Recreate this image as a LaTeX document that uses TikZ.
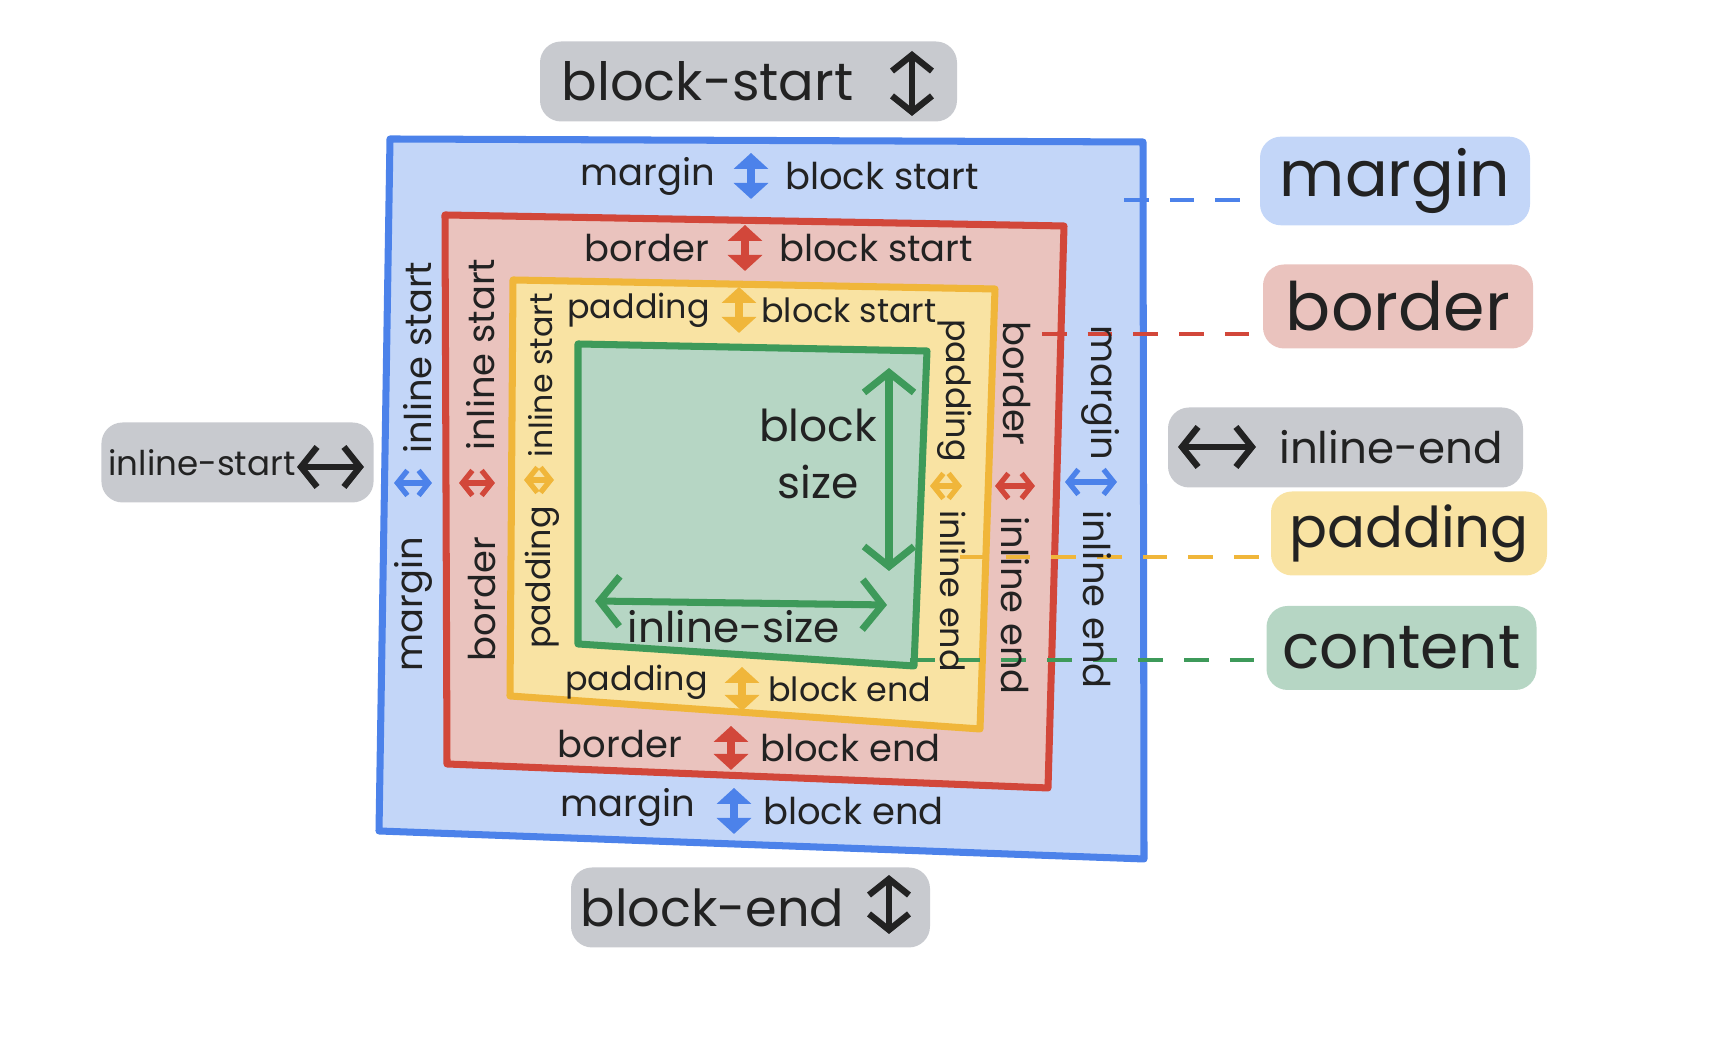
\documentclass[tikz,border=0pt]{standalone}
\usepackage{fontspec}
\setmainfont{Poppins}
\usepackage{tikz}
\usetikzlibrary{arrows.meta, positioning, calc}
\usepackage{xcolor}
\definecolor{mblue}{HTML}{4C82EA}
\definecolor{mbluefill}{HTML}{C3D6F8}
\definecolor{bred}{HTML}{D2473A}
\definecolor{bredfill}{HTML}{EAC3BE}
\definecolor{pyel}{HTML}{F0B63A}
\definecolor{pyelfill}{HTML}{F9E3A3}
\definecolor{cgrn}{HTML}{3E9A5A}
\definecolor{cgrnfill}{HTML}{B6D6C4}
\definecolor{lgray}{HTML}{C8CACF}
\definecolor{ink}{HTML}{222222}

\begin{document}
\begin{tikzpicture}[
    txt/.style={text=ink, font=\fontsize{10.5}{12}\selectfont, inner sep=1pt},
    pdtxt/.style={txt, font=\fontsize{9.5}{11}\selectfont},
    graybox/.style={fill=lgray, rounded corners=6pt, text=ink, minimum height=0.8cm, inner sep=2pt},
    keybox/.style={rounded corners=6pt, text=ink, minimum height=0.84cm, minimum width=2.7cm},
    twoway/.style={line width=2.2pt, line cap=round, {Triangle[length=1.6mm,width=3.4mm]}-{Triangle[length=1.6mm,width=3.4mm]}},
    sideway/.style={line width=1.5pt, line cap=round, {Straight Barb[length=1mm,width=2.5mm]}-{Straight Barb[length=1mm,width=2.5mm]}},
    inkway/.style={ink, line width=1.8pt, line cap=round, {Straight Barb[length=1.6mm,width=4mm]}-{Straight Barb[length=1.6mm,width=4mm]}},
    sizeway/.style={cgrn, line width=2pt, line cap=round, {Straight Barb[length=2mm,width=5mm]}-{Straight Barb[length=2mm,width=5mm]}},
    leader/.style={dash pattern=on 7pt off 6pt, line width=1.1pt},
    edge/.style={line width=2pt, line join=round}
]
    \useasboundingbox (0,0) rectangle (17.11,10.46);

    % nested boxes
    \draw[edge, mblue, fill=mbluefill] (3.90,9.07) -- (11.43,9.04) -- (11.44,1.87) -- (3.79,2.15) -- cycle;
    \draw[edge, bred, fill=bredfill] (4.45,8.31) -- (10.64,8.20) -- (10.48,2.58) -- (4.47,2.82) -- cycle;
    \draw[edge, pyel, fill=pyelfill] (5.13,7.66) -- (9.95,7.57) -- (9.80,3.17) -- (5.10,3.50) -- cycle;
    \draw[edge, cgrn, fill=cgrnfill] (5.78,7.02) -- (9.27,6.95) -- (9.14,3.80) -- (5.78,4.02) -- cycle;

    % gray direction boxes
    \node[graybox, minimum width=4.17cm, font=\fontsize{15}{17}\selectfont] (bsbox) at (7.485,9.645) {block-start\hspace{0.82cm}\mbox{}};
    \node[graybox, minimum width=3.59cm, font=\fontsize{14.5}{17}\selectfont] (bebox) at (7.505,1.385) {block-end\hspace{0.76cm}\mbox{}};
    \node[graybox, minimum width=2.67cm, font=\fontsize{9.7}{12}\selectfont] (isbox) at (2.375,5.835) {inline-start\hspace{0.71cm}\mbox{}};
    \node[graybox, minimum width=3.55cm, font=\fontsize{12.4}{15}\selectfont] (iebox) at (13.455,5.985) {\hspace{0.91cm}inline-end};
    \draw[inkway] (9.12,9.95) -- (9.12,9.30);
    \draw[inkway] (8.89,1.71) -- (8.89,1.12);
    \draw[inkway] (2.97,5.79) -- (3.64,5.79);
    \draw[inkway] (11.78,5.99) -- (12.56,5.99);

    % key labels
    \node[keybox, fill=mbluefill, font=\fontsize{18}{22}\selectfont] (mgkey) at (13.95,8.65) {margin};
    \node[keybox, fill=bredfill, font=\fontsize{19}{22}\selectfont] (bdkey) at (13.98,7.395) {border};
    \node[keybox, fill=pyelfill, minimum width=2.76cm, font=\fontsize{16}{22}\selectfont] (pdkey) at (14.09,5.125) {padding};
    \node[keybox, fill=cgrnfill, font=\fontsize{17.5}{22}\selectfont] (ctkey) at (14.015,3.98) {content};

    \coordinate (mgdot) at (11.24,8.46);
    \coordinate (bddot) at (10.42,7.12);
    \coordinate (pddot) at (9.60,4.89);
    \coordinate (ctdot) at (9.10,3.86);
    \draw[leader, mblue] (mgdot) -- (mgdot -| mgkey.west);
    \draw[leader, bred] (bddot) -- (bddot -| bdkey.west);
    \draw[leader, pyel] (pddot) -- (pddot -| pdkey.west);
    \draw[leader, cgrn] (ctdot) -- (ctdot -| ctkey.west);

    % block start / end sides
    \coordinate (mgtopar) at (7.51,8.70);
    \coordinate (bdtopar) at (7.45,7.98);
    \coordinate (pdtopar) at (7.39,7.36);
    \coordinate (pdbotar) at (7.42,3.57);
    \coordinate (bdbotar) at (7.31,2.98);
    \coordinate (mgbotar) at (7.34,2.35);

    \node[txt, anchor=east] (mgtop) at ([xshift=-0.32cm]mgtopar) {margin};
    \node[txt, anchor=west] (mgtopbs) at ([xshift=0.3cm]mgtopar) {block start};
    \draw[twoway, mblue] ([yshift=0.23cm]mgtopar) -- ([yshift=-0.23cm]mgtopar);
    \node[txt, anchor=east] (bdtop) at ([xshift=-0.32cm]bdtopar) {border};
    \node[txt, anchor=west] (bdtopbs) at ([xshift=0.3cm]bdtopar) {block start};
    \draw[twoway, bred] ([yshift=0.23cm]bdtopar) -- ([yshift=-0.23cm]bdtopar);
    \node[pdtxt, anchor=east] (pdtop) at ([xshift=-0.25cm]pdtopar) {padding};
    \node[pdtxt, anchor=west] (pdtopbs) at ([xshift=0.18cm]pdtopar) {block start};
    \draw[twoway, pyel] ([yshift=0.23cm]pdtopar) -- ([yshift=-0.23cm]pdtopar);

    \node[pdtxt, anchor=east] (pdbot) at ([xshift=-0.3cm,yshift=0.07cm]pdbotar) {padding};
    \node[pdtxt, anchor=west] (pdbotbe) at ([xshift=0.22cm]pdbotar) {block end};
    \draw[twoway, pyel] ([yshift=0.22cm]pdbotar) -- ([yshift=-0.22cm]pdbotar);
    \node[txt, anchor=east] (bdbot) at ([xshift=-0.45cm,yshift=0.04cm]bdbotar) {border};
    \node[txt, anchor=west] (bdbotbe) at ([xshift=0.25cm]bdbotar) {block end};
    \draw[twoway, bred] ([yshift=0.22cm]bdbotar) -- ([yshift=-0.22cm]bdbotar);
    \node[txt, anchor=east] (mgbot) at ([xshift=-0.35cm,yshift=0.04cm]mgbotar) {margin};
    \node[txt, anchor=west] (mgbotbe) at ([xshift=0.25cm]mgbotar) {block end};
    \draw[twoway, mblue] ([yshift=0.23cm]mgbotar) -- ([yshift=-0.23cm]mgbotar);

    % inline start side
    \coordinate (mgleftar) at (4.13,5.63);
    \coordinate (bdleftar) at (4.77,5.63);
    \coordinate (pdleftar) at (5.39,5.66);

    \node[txt, rotate=90, anchor=west] (mgleftis) at ([xshift=0.05cm,yshift=0.25cm]mgleftar) {inline start};
    \node[txt, rotate=90, anchor=east] (mgleft) at ([yshift=-0.5cm]mgleftar) {margin};
    \draw[sideway, mblue] ([xshift=-0.19cm]mgleftar) -- ([xshift=0.19cm]mgleftar);
    \node[txt, rotate=90, anchor=west] (bdleftis) at ([xshift=0.04cm,yshift=0.28cm]bdleftar) {inline start};
    \node[txt, rotate=90, anchor=east] (bdleft) at ([xshift=0.05cm,yshift=-0.5cm]bdleftar) {border};
    \draw[sideway, bred] ([xshift=-0.18cm]bdleftar) -- ([xshift=0.18cm]bdleftar);
    \node[pdtxt, rotate=90, anchor=west, font=\fontsize{9}{11}\selectfont] (pdleftis) at ([xshift=0.02cm,yshift=0.18cm]pdleftar) {inline start};
    \node[pdtxt, rotate=90, anchor=east] (pdleft) at ([xshift=0.03cm,yshift=-0.22cm]pdleftar) {padding};
    \draw[sideway, pyel] ([xshift=-0.15cm]pdleftar) -- ([xshift=0.15cm]pdleftar);

    % inline end side
    \coordinate (pdrightar) at (9.46,5.60);
    \coordinate (bdrightar) at (10.15,5.60);
    \coordinate (mgrightar) at (10.91,5.64);

    \node[pdtxt, rotate=-90, anchor=east] (pdright) at ([xshift=0.09cm,yshift=0.2cm]pdrightar) {padding};
    \node[pdtxt, rotate=-90, anchor=west] (pdrightie) at ([xshift=0.07cm,yshift=-0.2cm]pdrightar) {inline end};
    \draw[sideway, pyel] ([xshift=-0.16cm]pdrightar) -- ([xshift=0.16cm]pdrightar);
    \node[txt, rotate=-90, anchor=east] (bdright) at ([xshift=0.02cm,yshift=0.36cm]bdrightar) {border};
    \node[txt, rotate=-90, anchor=west] (bdrightie) at ([yshift=-0.26cm]bdrightar) {inline end};
    \draw[sideway, bred] ([xshift=-0.2cm]bdrightar) -- ([xshift=0.2cm]bdrightar);
    \node[txt, rotate=-90, anchor=east] (mgright) at ([xshift=0.1cm,yshift=0.18cm]mgrightar) {margin};
    \node[txt, rotate=-90, anchor=west] (mgrightie) at ([xshift=0.06cm,yshift=-0.24cm]mgrightar) {inline end};
    \draw[sideway, mblue] ([xshift=-0.26cm]mgrightar) -- ([xshift=0.26cm]mgrightar);

    % content sizes
    \node[txt, align=center, font=\fontsize{12.5}{16}\selectfont] (bsize) at (8.18,5.92) {block\\size};
    \node[txt, font=\fontsize{12}{15}\selectfont] (isize) at (7.34,4.19) {inline-size};
    \draw[sizeway] (8.89,6.78) -- (8.89,4.75);
    \draw[sizeway] (5.95,4.45) -- (8.87,4.41);
\end{tikzpicture}
\end{document}
